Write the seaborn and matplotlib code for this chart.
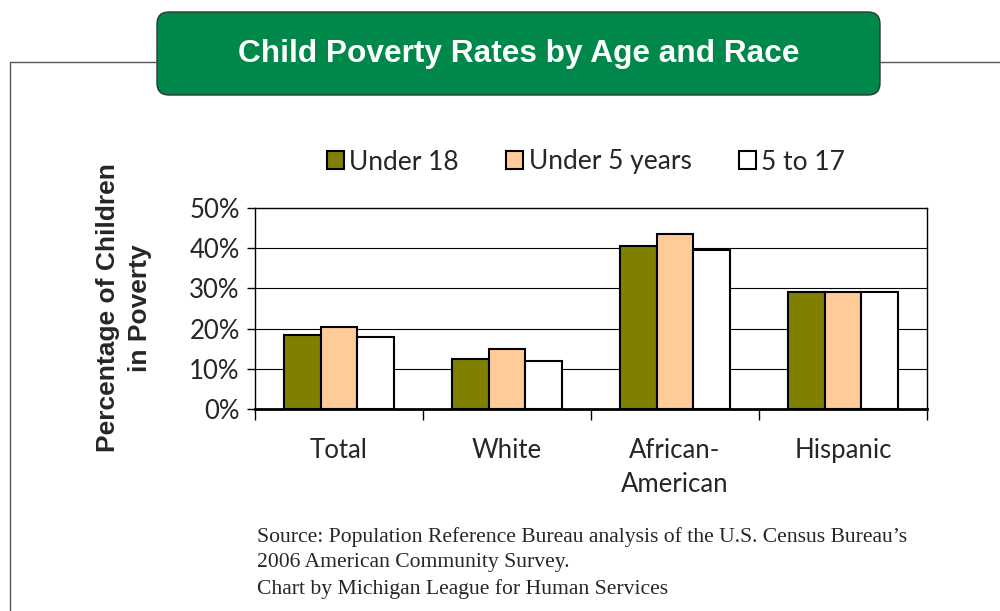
import matplotlib
matplotlib.use("Agg")
import matplotlib.pyplot as plt
import seaborn as sns
import pandas as pd
from matplotlib.patches import FancyBboxPatch, Patch

categories = ["Total", "White", "African-\nAmerican", "Hispanic"]
series = ["Under 18", "Under 5 years", "5 to 17"]
under18 = [18.3, 12.4, 40.5, 29.2]
under5 = [20.3, 14.9, 43.5, 29.2]
age5to17 = [17.8, 11.9, 39.6, 29.2]
colors = ["#808000", "#FFCC99", "#FFFFFF"]
yticks = [0, 10, 20, 30, 40, 50]
ytick_labels = ["0%", "10%", "20%", "30%", "40%", "50%"]
footer_lines = [
    "Source: Population Reference Bureau analysis of the U.S. Census Bureau\u2019s",
    "2006 American Community Survey.",
    "Chart by Michigan League for Human Services",
]

rows = []
for s, vals in zip(series, [under18, under5, age5to17]):
    for c, v in zip(categories, vals):
        rows.append({"cat": c, "series": s, "value": v})
df = pd.DataFrame(rows)

sns.set_theme(style="white")
plt.rcParams["font.family"] = ["Lato", "DejaVu Sans"]

fig = plt.figure(figsize=(10, 6.11), dpi=100)

# background canvas in pixel coords
bg = fig.add_axes([0, 0, 1, 1])
bg.set_xlim(0, 1000)
bg.set_ylim(611, 0)
bg.axis("off")
bg.plot([10, 157], [62, 62], color="#555555", lw=1)
bg.plot([880, 1000], [62, 62], color="#555555", lw=1)
bg.plot([10, 10], [62, 611], color="#555555", lw=1)
box = FancyBboxPatch((157, 12), 723, 83, boxstyle="round,pad=0,rounding_size=12",
                     facecolor="#00884A", edgecolor="#333333", lw=1)
bg.add_patch(box)
bg.text(519, 54, "Child Poverty Rates by Age and Race", color="white",
        fontsize=22.8, fontweight="bold", family=["Liberation Sans"],
        ha="center", va="center")
bg.text(124, 308, "Percentage of Children\nin Poverty", rotation=90,
        fontsize=19, fontweight="bold", family=["Liberation Sans"],
        ha="center", va="center", multialignment="center", linespacing=1.4)
for i, line in enumerate(footer_lines):
    bg.text(257, 537 + 26 * i, line, fontsize=15.6, family=["Liberation Serif"],
            ha="left", va="center")

ax = fig.add_axes([0.255, 1 - 409 / 611, 0.672, 201 / 611])
sns.barplot(data=df, x="cat", y="value", hue="series", palette=colors,
            width=0.66, gap=0, edgecolor="black", linewidth=1.5, ax=ax,
            legend=False, saturation=1)
ax.set_ylim(0, 50)
ax.set_xlim(-0.5, 3.5)
ax.set_yticks(yticks)
ax.set_yticklabels(ytick_labels, fontsize=18.5)
ax.set_xlabel("")
ax.set_ylabel("")
ax.set_xticks(range(4))
ax.set_xticklabels(categories, fontsize=18.5, linespacing=1.45)
ax.set_xticks([-0.5, 0.5, 1.5, 2.5, 3.5], minor=True)
ax.tick_params(axis="x", which="major", length=0, pad=21)
ax.tick_params(axis="x", which="minor", length=8, width=1, color="black", direction="out", bottom=True)
ax.tick_params(axis="y", length=6, width=1, color="black", direction="out", left=True, pad=5)
for y in yticks[1:-1]:
    ax.axhline(y, color="black", lw=0.8, zorder=0)
for side in ["top", "right", "left"]:
    ax.spines[side].set_visible(True)
    ax.spines[side].set_color("black")
    ax.spines[side].set_linewidth(1)
ax.spines["bottom"].set_color("black")
ax.spines["bottom"].set_linewidth(2)
ax.set_axisbelow(True)

handles = [Patch(facecolor=c, edgecolor="black", lw=1.5) for c in colors]
fig.legend(handles, series, loc="center", bbox_to_anchor=(0.586, 1 - 162 / 611),
           ncol=3, frameon=False, fontsize=19, handlelength=0.65, handleheight=0.65,
           handletextpad=0.2, columnspacing=1.8)

fig.savefig("out.png", dpi=100)
